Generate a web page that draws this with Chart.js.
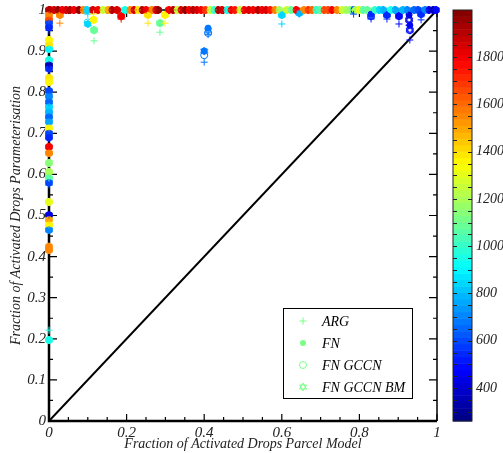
<!DOCTYPE html>
<html>
<head>
<meta charset="utf-8">
<title>Fraction of activated drops</title>
<script src="https://cdn.jsdelivr.net/npm/chart.js@4.4.0/dist/chart.umd.min.js"></script>
<style>
  html, body { margin: 0; padding: 0; background: #fff; }
  #chart { display: block; }
</style>
</head>
<body>
<canvas id="chart" width="503" height="453"></canvas>
<script>
// fraction activated in the parcel model (x), one entry per case
const parcelFrac = [
  0.003, 0.013, 0.023, 0.028, 0.034, 0.044, 0.054, 0.064, 0.077, 0.088,
  0.097, 0.100, 0.113, 0.115, 0.116, 0.126, 0.139, 0.152, 0.162, 0.175,
  0.186, 0.196, 0.209, 0.219, 0.229, 0.240, 0.250, 0.255, 0.265, 0.275,
  0.281, 0.286, 0.299, 0.309, 0.320, 0.330, 0.340, 0.351, 0.361, 0.371,
  0.381, 0.392, 0.400, 0.403, 0.410, 0.415, 0.425, 0.436, 0.446, 0.459,
  0.469, 0.479, 0.492, 0.503, 0.515, 0.526, 0.539, 0.549, 0.559, 0.570,
  0.582, 0.593, 0.600, 0.613, 0.624, 0.637, 0.645, 0.657, 0.668, 0.678,
  0.688, 0.698, 0.709, 0.719, 0.729, 0.742, 0.755, 0.765, 0.776, 0.785,
  0.789, 0.799, 0.809, 0.820, 0.830, 0.840, 0.851, 0.861, 0.871, 0.881,
  0.892, 0.902, 0.912, 0.923, 0.928, 0.930, 0.941, 0.951, 0.959, 0.969,
  0.979, 0.990, 0.997,
  0, 0, 0, 0, 0, 0, 0, 0, 0, 0,
  0, 0, 0, 0, 0, 0, 0, 0, 0, 0,
  0, 0, 0, 0, 0, 0, 0, 0, 0, 0,
  0, 0, 0, 0, 0, 0, 0
];

// colour value of each case (colour bar)
const colourValue = [
  1900, 1850, 1950, 1550, 1800, 1850, 1900, 1800, 1950, 1550,
  850, 850, 1850, 1350, 1100, 1800, 1250, 1500, 1900, 1850,
  1800, 950, 1550, 1850, 1400, 1900, 1800, 1400, 1550, 1850,
  1950, 1100, 1350, 1800, 1900, 1250, 1850, 1950, 1800, 1900,
  1850, 1800, 680, 1700, 680, 1250, 1000, 1900, 1850, 950,
  1800, 1750, 1250, 1800, 1850, 1800, 1900, 1800, 1850, 1750,
  1550, 1200, 850, 1250, 1100, 1800, 800, 1550, 1700, 1600,
  1000, 1050, 1650, 1650, 1800, 1550, 1250, 1200, 1150, 600,
  1200, 1300, 1050, 1100, 550, 1000, 850, 800, 550, 950,
  750, 500, 800, 700, 450, 500, 650, 600, 550, 700,
  450, 350, 500,
  1900, 1550, 1650, 600, 550, 1350, 1400, 900, 950, 350,
  550, 1400, 1350, 600, 700, 650, 850, 800, 650, 750,
  1350, 600, 550, 1800, 1550, 1150, 1200, 1050, 600, 1300,
  450, 1500, 1350, 700, 1550, 1550, 950
];

const argFrac = [
  1, 1, 1, 0.968, 1, 1, 1, 1, 1, 1,
  1, 0.99, 1, 0.99, 0.925, 1, 1, 1, 1, 1,
  0.978, 1, 1, 1, 1, 1, 1, 0.968, 1, 1,
  1, 0.946, 0.968, 1, 1, 1, 1, 1, 1, 1,
  1, 1, 0.873, 1, 0.94, 1, 1, 1, 1, 1,
  1, 1, 1, 1, 1, 1, 1, 1, 1, 1,
  1, 1, 0.966, 1, 1, 1, 0.99, 1, 1, 1,
  1, 1, 1, 1, 1, 1, 1, 1, 1, 0.99,
  1, 1, 1, 1, 0.978, 1, 1, 1, 0.978, 1,
  1, 0.966, 1, 1, 0.963, 0.927, 1, 1, 0.976, 1,
  1, 1, 1,
  1, 0.985, 0.976, 0.968, 0.95, 0.925, 0.915, 0.905, 0.88, 0.866,
  0.852, 0.835, 0.825, 0.803, 0.788, 0.772, 0.764, 0.752, 0.74, 0.728,
  0.713, 0.7, 0.688, 0.667, 0.652, 0.628, 0.606, 0.591, 0.574, 0.533,
  0.501, 0.489, 0.477, 0.465, 0.42, 0.416, 0.221
];

const fnFrac = [
  1, 1, 1, 0.988, 1, 1, 1, 1, 1, 1,
  1, 0.966, 1, 0.976, 0.951, 1, 1, 1, 1, 1,
  0.985, 1, 1, 1, 1, 1, 1, 0.988, 1, 1,
  1, 0.968, 0.988, 1, 1, 1, 1, 1, 1, 1,
  1, 1, 0.9, 1, 0.956, 1, 1, 1, 1, 1,
  1, 1, 1, 1, 1, 1, 1, 1, 1, 1,
  1, 1, 0.988, 1, 1, 1, 0.993, 1, 1, 1,
  1, 1, 1, 1, 1, 1, 1, 1, 1, 1,
  1, 1, 1, 1, 0.99, 1, 1, 1, 0.988, 1,
  1, 0.985, 1, 1, 0.988, 0.963, 1, 1, 0.99, 1,
  1, 1, 1,
  1, 0.988, 0.976, 0.968, 0.958, 0.927, 0.915, 0.905, 0.878, 0.866,
  0.858, 0.835, 0.825, 0.803, 0.79, 0.776, 0.764, 0.752, 0.74, 0.728,
  0.713, 0.7, 0.69, 0.667, 0.652, 0.628, 0.606, 0.591, 0.58, 0.533,
  0.501, 0.49, 0.477, 0.465, 0.424, 0.416, 0.197
];

const gccnFrac = [
  1, 1, 1, 0.988, 1, 1, 1, 1, 1, 1,
  1, 0.97, 1, 0.976, 0.951, 1, 1, 1, 1, 1,
  0.985, 1, 1, 1, 1, 1, 1, 0.988, 1, 1,
  1, 0.968, 0.988, 1, 1, 1, 1, 1, 1, 1,
  1, 1, 0.89, 1, 0.944, 1, 1, 1, 1, 1,
  1, 1, 1, 1, 1, 1, 1, 1, 1, 1,
  1, 1, 0.988, 1, 1, 1, 0.993, 1, 1, 1,
  1, 1, 1, 1, 1, 1, 1, 1, 1, 1,
  1, 1, 1, 1, 0.985, 1, 1, 1, 0.988, 1,
  1, 0.985, 1, 1, 0.976, 0.951, 1, 1, 0.99, 1,
  1, 1, 1,
  1, 0.988, 0.976, 0.97, 0.958, 0.927, 0.915, 0.905, 0.878, 0.866,
  0.858, 0.835, 0.825, 0.803, 0.79, 0.776, 0.764, 0.752, 0.74, 0.728,
  0.713, 0.7, 0.69, 0.667, 0.652, 0.628, 0.606, 0.591, 0.58, 0.533,
  0.501, 0.49, 0.477, 0.465, 0.424, 0.416, 0.197
];

const bmFrac = [
  1, 1, 1, 0.988, 1, 1, 1, 1, 1, 1,
  1, 0.966, 1, 0.976, 0.951, 1, 1, 1, 1, 1,
  0.985, 1, 1, 1, 1, 1, 1, 0.988, 1, 1,
  1, 0.968, 0.988, 1, 1, 1, 1, 1, 1, 1,
  1, 1, 0.9, 1, 0.95, 1, 1, 1, 1, 1,
  1, 1, 1, 1, 1, 1, 1, 1, 1, 1,
  1, 1, 0.988, 1, 1, 1, 0.993, 1, 1, 1,
  1, 1, 1, 1, 1, 1, 1, 1, 1, 1,
  1, 1, 1, 1, 0.985, 1, 1, 1, 0.988, 1,
  1, 0.985, 1, 1, 0.976, 0.951, 1, 1, 0.99, 1,
  1, 1, 1,
  1, 0.988, 0.976, 0.97, 0.958, 0.927, 0.915, 0.905, 0.878, 0.866,
  0.858, 0.835, 0.825, 0.803, 0.79, 0.776, 0.764, 0.752, 0.74, 0.728,
  0.713, 0.7, 0.69, 0.667, 0.652, 0.628, 0.606, 0.591, 0.58, 0.533,
  0.501, 0.49, 0.477, 0.465, 0.424, 0.416, 0.197
];

const seriesNames = ["ARG", "FN", "FN GCCN", "FN GCCN BM"];
const xTickValues = [0, 0.2, 0.4, 0.6, 0.8, 1];
const yTickValues = [0, 0.1, 0.2, 0.3, 0.4, 0.5, 0.6, 0.7, 0.8, 0.9, 1];
const colourTicks = [400, 600, 800, 1000, 1200, 1400, 1600, 1800];
const colourMin = 260;
const colourMax = 2000;
const oneToOne = [0, 1];

const serif = "'Liberation Serif', 'DejaVu Serif', serif";
const legendColour = "#79ff86";

// jet colour map, 64 bands like the colour bar
const jetCache = {};
function jet(v) {
  let t = (v - colourMin) / (colourMax - colourMin);
  t = Math.min(Math.max(t, 0), 0.9999);
  const band = Math.floor(t * 64);
  if (jetCache[band]) return jetCache[band];
  const m = (band + 0.5) / 64;
  const c = f => Math.round(255 * Math.min(Math.max(f, 0), 1));
  const col = `rgb(${c(1.5 - Math.abs(4 * m - 3))},${c(1.5 - Math.abs(4 * m - 2))},${c(1.5 - Math.abs(4 * m - 1))})`;
  jetCache[band] = col;
  return col;
}

// six-pointed star marker for FN GCCN BM
const starCache = {};
function hexagram(color) {
  if (starCache[color]) return starCache[color];
  const cv = document.createElement("canvas");
  cv.width = 10;
  cv.height = 10;
  const g = cv.getContext("2d");
  g.strokeStyle = color;
  g.lineWidth = 1;
  for (const rot of [-Math.PI / 2, Math.PI / 2]) {
    g.beginPath();
    for (let k = 0; k < 3; k++) {
      const a = rot + k * 2 * Math.PI / 3;
      const px = 5 + 4 * Math.cos(a);
      const py = 5 + 4 * Math.sin(a);
      if (k) g.lineTo(px, py); else g.moveTo(px, py);
    }
    g.closePath();
    g.stroke();
  }
  starCache[color] = cv;
  return cv;
}

const points = ys => parcelFrac.map((x, i) => ({ x, y: ys[i] }));
const pointColour = ctx => jet(colourValue[ctx.dataIndex]);

// frame, inward ticks, colour bar and legend box
const framePlugin = {
  id: "frame",
  beforeDatasetsDraw(chart) {
    const { ctx, chartArea: a } = chart;
    const xs = chart.scales.x, ys = chart.scales.y, cb = chart.scales.cb;
    ctx.save();
    ctx.strokeStyle = "#000";

    ctx.lineWidth = 1.2;
    for (let i = 0; i <= 20; i++) {
      const v = i / 20;
      const px = xs.getPixelForValue(v);
      const len = i % 4 === 0 ? 7 : 4;
      ctx.beginPath();
      ctx.moveTo(px, a.bottom); ctx.lineTo(px, a.bottom - len);
      ctx.moveTo(px, a.top); ctx.lineTo(px, a.top + len);
      ctx.stroke();
      const py = ys.getPixelForValue(v);
      const ylen = i % 2 === 0 ? 8 : 4;
      ctx.beginPath();
      ctx.moveTo(a.left, py); ctx.lineTo(a.left + ylen, py);
      ctx.moveTo(a.right, py); ctx.lineTo(a.right - ylen, py);
      ctx.stroke();
    }

    ctx.lineWidth = 1.5;
    ctx.beginPath();
    ctx.moveTo(a.left, a.top); ctx.lineTo(a.right, a.top); ctx.lineTo(a.right, a.bottom);
    ctx.stroke();
    ctx.lineWidth = 2.5;
    ctx.beginPath();
    ctx.moveTo(a.left, a.top); ctx.lineTo(a.left, a.bottom); ctx.lineTo(a.right, a.bottom);
    ctx.stroke();

    // colour bar
    const bx = cb.left + 16, bw = 19;
    const step = (cb.max - cb.min) / 64;
    for (let k = 0; k < 64; k++) {
      const v0 = cb.min + k * step;
      const y0 = cb.getPixelForValue(v0);
      const y1 = cb.getPixelForValue(v0 + step);
      ctx.fillStyle = jet(v0 + step / 2);
      ctx.fillRect(bx, y1, bw, y0 - y1 + 0.5);
    }
    ctx.lineWidth = 1;
    ctx.strokeStyle = "#222";
    const cTop = cb.getPixelForValue(cb.max), cBot = cb.getPixelForValue(cb.min);
    ctx.strokeRect(bx, cTop, bw, cBot - cTop);
    ctx.beginPath();
    for (let v = 300; v < cb.max; v += 50) {
      const py = Math.round(cb.getPixelForValue(v)) + 0.5;
      ctx.moveTo(bx, py); ctx.lineTo(bx + 4, py);
      ctx.moveTo(bx + bw, py); ctx.lineTo(bx + bw - 4, py);
    }
    ctx.stroke();
    ctx.fillStyle = "#222";
    ctx.font = `italic 14px ${serif}`;
    ctx.textBaseline = "middle";
    ctx.textAlign = "left";
    colourTicks.forEach(v => ctx.fillText(String(v), cb.left + 39, cb.getPixelForValue(v)));
    ctx.restore();
  },
  afterDatasetsDraw(chart) {
    const { ctx, chartArea: a } = chart;
    const left = a.right - 154, top = a.bottom - 113;
    ctx.save();
    ctx.fillStyle = "#fff";
    ctx.fillRect(left, top, 129, 90);
    ctx.strokeStyle = "#000";
    ctx.lineWidth = 1;
    ctx.strokeRect(left + 0.5, top + 0.5, 129, 90);
    ctx.font = `italic 14px ${serif}`;
    ctx.textBaseline = "middle";
    seriesNames.forEach((name, i) => {
      const mx = left + 20, my = top + 13 + i * 22;
      ctx.strokeStyle = legendColour;
      ctx.fillStyle = legendColour;
      ctx.lineWidth = 1;
      ctx.beginPath();
      if (i === 0) {
        ctx.moveTo(mx - 3.5, my); ctx.lineTo(mx + 3.5, my);
        ctx.moveTo(mx, my - 3.5); ctx.lineTo(mx, my + 3.5);
        ctx.stroke();
      } else if (i === 1) {
        ctx.arc(mx, my, 3, 0, 2 * Math.PI);
        ctx.fill();
      } else if (i === 2) {
        ctx.arc(mx, my, 3.5, 0, 2 * Math.PI);
        ctx.stroke();
      } else {
        ctx.drawImage(hexagram(legendColour), mx - 5, my - 5);
      }
      ctx.fillStyle = "#000";
      ctx.fillText(name, left + 39, my + 1);
    });
    ctx.restore();
  }
};

const axisFont = { family: serif, size: 15, style: "italic" };
const titleFont = { family: serif, size: 14, style: "italic" };

new Chart(document.getElementById("chart"), {
  type: "scatter",
  data: {
    datasets: [
      {
        label: seriesNames[0], data: points(argFrac), pointStyle: "cross",
        pointRadius: 3.5, pointBorderWidth: 1,
        pointBorderColor: pointColour, pointBackgroundColor: pointColour, clip: false
      },
      {
        label: seriesNames[1], data: points(fnFrac), pointStyle: "circle",
        pointRadius: 3, pointBorderWidth: 1,
        pointBorderColor: pointColour, pointBackgroundColor: pointColour, clip: false
      },
      {
        label: seriesNames[2], data: points(gccnFrac), pointStyle: "circle",
        pointRadius: 3.5, pointBorderWidth: 1,
        pointBorderColor: pointColour, pointBackgroundColor: "rgba(0,0,0,0)", clip: false
      },
      {
        label: seriesNames[3], data: points(bmFrac),
        pointStyle: ctx => hexagram(pointColour(ctx)),
        pointRadius: 4, pointBorderWidth: 1,
        pointBorderColor: pointColour, pointBackgroundColor: pointColour, clip: false
      },
      {
        label: "1:1", data: oneToOne.map(v => ({ x: v, y: v })),
        showLine: true, borderColor: "#000", borderWidth: 2, pointRadius: 0
      }
    ]
  },
  options: {
    responsive: false,
    devicePixelRatio: 1,
    animation: false,
    events: [],
    layout: { padding: { top: 10, left: 0, right: 0, bottom: 0 } },
    plugins: { legend: { display: false }, tooltip: { enabled: false } },
    scales: {
      x: {
        type: "linear", min: 0, max: 1,
        afterBuildTicks: s => { s.ticks = xTickValues.map(value => ({ value })); },
        ticks: { color: "#222", font: axisFont, padding: 3, autoSkip: false, maxRotation: 0, callback: v => String(v) },
        grid: { display: false, drawTicks: false },
        border: { display: false },
        title: {
          display: true, text: "Fraction of Activated Drops Parcel Model",
          color: "#222", font: titleFont, padding: { top: 0, bottom: 0 }
        },
        afterFit: s => { s.height = 32; s.paddingLeft = 0; s.paddingRight = 0; }
      },
      y: {
        type: "linear", min: 0, max: 1,
        afterBuildTicks: s => { s.ticks = yTickValues.map(value => ({ value })); },
        ticks: { color: "#222", font: axisFont, padding: 3, autoSkip: false, callback: v => String(v) },
        grid: { display: false, drawTicks: false },
        border: { display: false },
        title: {
          display: true, text: "Fraction of Activated Drops Parameterisation",
          color: "#222", font: titleFont, padding: { top: 8, bottom: 0 }
        },
        afterFit: s => { s.width = 49; s.paddingTop = 0; s.paddingBottom = 0; }
      },
      cb: {
        type: "linear", axis: "y", position: "right", min: colourMin, max: colourMax,
        ticks: { display: false },
        grid: { display: false, drawTicks: false },
        border: { display: false },
        afterFit: s => { s.width = 66; s.paddingTop = 0; s.paddingBottom = 0; }
      }
    }
  },
  plugins: [framePlugin]
});
</script>
</body>
</html>
